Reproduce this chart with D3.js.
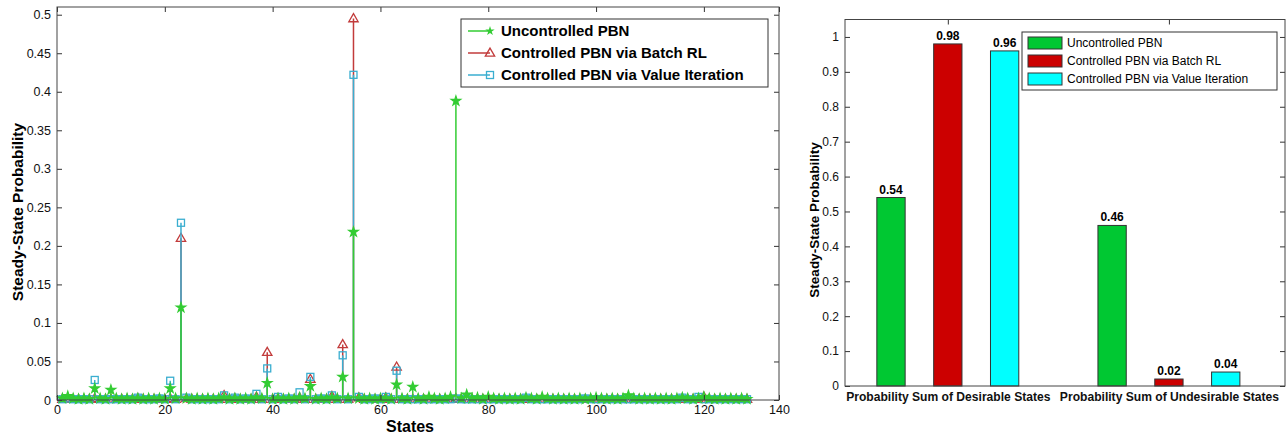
<!DOCTYPE html>
<html>
<head>
<meta charset="utf-8">
<script src="https://cdn.jsdelivr.net/npm/d3@7"></script>
<style>
  body { margin: 0; background: #fff; }
  svg text { font-family: "Liberation Sans", Arial, sans-serif; }
</style>
</head>
<body>
<div id="svgWrapper"></div>
<script>
"use strict"
// data
var seriesNames = ["Uncontrolled PBN", "Controlled PBN via Batch RL", "Controlled PBN via Value Iteration"];

// steady-state probability of states 1..128
var uncontrolled = [
    0.002,0.005,0.002,0.001,0.002,0.001,0.015,0.002,0.001,0.013,0.002,0.001,0.002,0.001,0.002,0.001,
    0.002,0.001,0.002,0.001,0.015,0.002,0.120,0.002,0.001,0.002,0.001,0.002,0.001,0.002,0.003,0.001,
    0.002,0.001,0.002,0.001,0.003,0.002,0.022,0.001,0.002,0.001,0.002,0.001,0.003,0.002,0.018,0.001,
    0.002,0.001,0.003,0.002,0.030,0.002,0.218,0.002,0.001,0.002,0.001,0.002,0.002,0.001,0.020,0.002,
    0.001,0.017,0.002,0.001,0.004,0.002,0.001,0.002,0.004,0.388,0.002,0.007,0.002,0.003,0.001,0.004,
    0.002,0.001,0.002,0.001,0.002,0.001,0.003,0.002,0.001,0.004,0.002,0.001,0.002,0.001,0.002,0.001,
    0.002,0.001,0.002,0.003,0.002,0.001,0.002,0.001,0.002,0.006,0.002,0.001,0.002,0.001,0.002,0.001,
    0.002,0.001,0.002,0.003,0.002,0.001,0.002,0.004,0.002,0.001,0.002,0.001,0.002,0.001,0.002,0.001
];
var batchRL = [
    0.001,0.002,0.001,0.001,0.001,0.001,0.002,0.001,0.001,0.001,0.001,0.001,0.001,0.001,0.002,0.001,
    0.001,0.001,0.001,0.001,0.002,0.001,0.210,0.002,0.001,0.001,0.001,0.001,0.001,0.001,0.006,0.001,
    0.002,0.001,0.001,0.001,0.004,0.001,0.062,0.001,0.002,0.001,0.001,0.001,0.003,0.001,0.027,0.001,
    0.001,0.001,0.005,0.001,0.072,0.001,0.495,0.003,0.001,0.001,0.001,0.001,0.003,0.001,0.043,0.001,
    0.001,0.001,0.001,0.001,0.001,0.001,0.001,0.001,0.001,0.002,0.001,0.001,0.001,0.001,0.001,0.001,
    0.001,0.001,0.001,0.001,0.001,0.001,0.002,0.001,0.001,0.001,0.001,0.001,0.001,0.001,0.001,0.001,
    0.001,0.001,0.001,0.001,0.001,0.001,0.001,0.001,0.001,0.001,0.001,0.001,0.001,0.001,0.001,0.001,
    0.001,0.001,0.001,0.002,0.001,0.001,0.001,0.004,0.001,0.001,0.001,0.001,0.001,0.001,0.001,0.001
];
var valueIteration = [
    0.001,0.002,0.001,0.001,0.001,0.001,0.026,0.001,0.001,0.001,0.001,0.001,0.001,0.001,0.003,0.001,
    0.001,0.001,0.002,0.001,0.025,0.001,0.230,0.003,0.001,0.001,0.001,0.001,0.001,0.001,0.006,0.001,
    0.003,0.001,0.002,0.001,0.008,0.001,0.041,0.001,0.004,0.001,0.002,0.001,0.010,0.001,0.030,0.001,
    0.002,0.001,0.006,0.001,0.058,0.001,0.422,0.004,0.001,0.001,0.002,0.001,0.004,0.001,0.038,0.001,
    0.001,0.001,0.001,0.001,0.001,0.001,0.001,0.001,0.001,0.002,0.001,0.001,0.001,0.001,0.001,0.001,
    0.001,0.001,0.001,0.001,0.001,0.001,0.003,0.001,0.001,0.001,0.001,0.001,0.001,0.001,0.001,0.001,
    0.001,0.002,0.001,0.001,0.001,0.001,0.001,0.001,0.001,0.001,0.001,0.001,0.001,0.001,0.001,0.001,
    0.001,0.001,0.001,0.003,0.001,0.001,0.004,0.001,0.001,0.001,0.001,0.001,0.001,0.001,0.001,0.001
];

var stemXTicks = [0, 20, 40, 60, 80, 100, 120, 140];
var stemYTicks = [0, 0.05, 0.1, 0.15, 0.2, 0.25, 0.3, 0.35, 0.4, 0.45, 0.5];

// bar chart
var barCategories = ["Probability Sum of Desirable States", "Probability Sum of Undesirable States"];
var barUncontrolled = [0.54, 0.46];
var barBatchRL = [0.98, 0.02];
var barValueIteration = [0.96, 0.04];
var barYTicks = [0, 0.1, 0.2, 0.3, 0.4, 0.5, 0.6, 0.7, 0.8, 0.9, 1];

var W = 1288, H = 437;
var svg = d3.select("#svgWrapper").append("svg").attr("width", W).attr("height", H);

// ---------- left: stem plot ----------
var sx = d3.scaleLinear().domain([0, 128, 140]).range([57, 747, 779]);
var sy = d3.scaleLinear().domain([0, 0.51]).range([400, 7]);

var left = svg.append("g");
left.append("rect").attr("x", 57).attr("y", 7).attr("width", 779 - 57).attr("height", 400 - 7)
    .attr("fill", "#fff");

var stemSeries = [
    {name: seriesNames[1], values: batchRL, color: "#c23b3b", marker: "tri"},
    {name: seriesNames[2], values: valueIteration, color: "#3aaed0", marker: "sq"},
    {name: seriesNames[0], values: uncontrolled, color: "#33cc33", marker: "dot"}
];

function drawMarker(g, type, color, x, y, sz) {
    if (type == "tri") {
        g.append("path").attr("d", d3.symbol(d3.symbolTriangle, 38)())
            .attr("transform", "translate(" + x + "," + (y + 0.5) + ")")
            .attr("fill", "none").attr("stroke", color).attr("stroke-width", 1.3);
    } else if (type == "sq") {
        g.append("rect").attr("x", x - 3.5).attr("y", y - 3.5).attr("width", 7).attr("height", 7)
            .attr("fill", "none").attr("stroke", color).attr("stroke-width", 1.3);
    } else {
        g.append("path").attr("d", d3.symbol(d3.symbolStar, sz || 28)())
            .attr("transform", "translate(" + x + "," + y + ")")
            .attr("fill", color).attr("stroke", color).attr("stroke-width", 1.2);
    }
}

stemSeries.forEach(function(s) {
    var g = left.append("g");
    s.values.forEach(function(v, i) {
        var st = i + 1;
        g.append("line").attr("x1", sx(st)).attr("x2", sx(st)).attr("y1", sy(0)).attr("y2", sy(v))
            .attr("stroke", s.color).attr("stroke-width", 1.5);
    });
    s.values.forEach(function(v, i) {
        drawMarker(g, s.marker, s.color, sx(i + 1), sy(v));
    });
});

function styleAxis(g) {
    g.select(".domain").remove();
    g.selectAll(".tick line").attr("stroke", "#333");
    g.selectAll(".tick text").attr("fill", "#111");
}

var fmt = function(d) { return String(+d.toFixed(2)); };

left.append("g").attr("transform", "translate(0,400)")
    .call(d3.axisBottom(sx).tickValues(stemXTicks).tickFormat(fmt).tickSizeInner(-5).tickSizeOuter(0).tickPadding(5))
    .call(styleAxis).selectAll("text").style("font-size", "12.5px");
left.append("g").attr("transform", "translate(0,7)")
    .call(d3.axisTop(sx).tickValues(stemXTicks).tickFormat("").tickSizeInner(-5).tickSizeOuter(0))
    .call(styleAxis);
left.append("g").attr("transform", "translate(57,0)")
    .call(d3.axisLeft(sy).tickValues(stemYTicks).tickFormat(fmt).tickSizeInner(-5).tickSizeOuter(0).tickPadding(6))
    .call(styleAxis).selectAll("text").style("font-size", "12.5px");
left.append("g").attr("transform", "translate(779,0)")
    .call(d3.axisRight(sy).tickValues(stemYTicks).tickFormat("").tickSizeInner(-5).tickSizeOuter(0))
    .call(styleAxis);
left.append("rect").attr("x", 57).attr("y", 7).attr("width", 779 - 57).attr("height", 400 - 7)
    .attr("fill", "none").attr("stroke", "#444").attr("stroke-width", 1);

left.append("text").attr("x", 410).attr("y", 432).attr("text-anchor", "middle")
    .style("font-size", "16px").style("font-weight", "bold").text("States");
left.append("text").attr("transform", "translate(23,212) rotate(-90)").attr("text-anchor", "middle")
    .style("font-size", "15.5px").style("font-weight", "bold").text("Steady-State Probability");

// legend
var legL = left.append("g");
legL.append("rect").attr("x", 461).attr("y", 19).attr("width", 307).attr("height", 68)
    .attr("fill", "#fff").attr("stroke", "#333");
var legOrder = [
    {name: seriesNames[0], color: "#33cc33", marker: "dot"},
    {name: seriesNames[1], color: "#c23b3b", marker: "tri"},
    {name: seriesNames[2], color: "#3aaed0", marker: "sq"}
];
legOrder.forEach(function(s, i) {
    var yy = 31 + i * 22;
    legL.append("line").attr("x1", 468).attr("x2", 490).attr("y1", yy).attr("y2", yy)
        .attr("stroke", s.color).attr("stroke-width", 1.5);
    drawMarker(legL, s.marker, s.color, 490, yy, 10);
    legL.append("text").attr("x", 501).attr("y", yy + 5)
        .style("font-size", "15px").style("font-weight", "bold").text(s.name);
});

// ---------- right: bar chart ----------
var bx = d3.scaleLinear().domain([0.535, 2.525]).range([845, 1285]);
var by = d3.scaleLinear().domain([0, 1.05]).range([386, 19.5]);
var barW = 0.128;
var barSeries = [
    {name: seriesNames[0], values: barUncontrolled, color: "#00c832", off: -0.257},
    {name: seriesNames[1], values: barBatchRL, color: "#cc0000", off: 0},
    {name: seriesNames[2], values: barValueIteration, color: "#00ffff", off: 0.257}
];

var right = svg.append("g");
var catIdx = [1, 2];

right.append("g").attr("transform", "translate(0,386)")
    .call(d3.axisBottom(bx).tickValues(catIdx).tickFormat(function(d) { return barCategories[d - 1]; })
        .tickSizeInner(-5).tickSizeOuter(0).tickPadding(6))
    .call(styleAxis)
    .call(function(g) { g.selectAll(".tick line").remove(); })
    .selectAll("text").style("font-size", "12.1px").style("font-weight", "bold");
right.append("g").attr("transform", "translate(0,19.5)")
    .call(d3.axisTop(bx).tickValues(catIdx).tickFormat("").tickSizeInner(-5).tickSizeOuter(0))
    .call(styleAxis);
right.append("g").attr("transform", "translate(845,0)")
    .call(d3.axisLeft(by).tickValues(barYTicks).tickFormat(fmt).tickSizeInner(-5).tickSizeOuter(0).tickPadding(6))
    .call(styleAxis).selectAll("text").style("font-size", "12px");
right.append("g").attr("transform", "translate(1285,0)")
    .call(d3.axisRight(by).tickValues(barYTicks).tickFormat("").tickSizeInner(-5).tickSizeOuter(0))
    .call(styleAxis);

barSeries.forEach(function(s) {
    var g = right.append("g");
    s.values.forEach(function(v, i) {
        var c = catIdx[i] + s.off;
        g.append("rect").attr("x", bx(c - barW / 2)).attr("y", by(v))
            .attr("width", bx(c + barW / 2) - bx(c - barW / 2)).attr("height", by(0) - by(v))
            .attr("fill", s.color).attr("stroke", "#333").attr("stroke-width", 1);
        g.append("text").attr("x", bx(c)).attr("y", by(v) - 4).attr("text-anchor", "middle")
            .style("font-size", "12px").style("font-weight", "bold").text(fmt(v));
    });
});

right.append("rect").attr("x", 845).attr("y", 19.5).attr("width", 1285 - 845).attr("height", 386 - 19.5)
    .attr("fill", "none").attr("stroke", "#444");

right.append("text").attr("transform", "translate(819,220) rotate(-90)").attr("text-anchor", "middle")
    .style("font-size", "13.5px").style("font-weight", "bold").text("Steady-State Probability");

var legR = right.append("g");
legR.append("rect").attr("x", 1022).attr("y", 32).attr("width", 255).attr("height", 58)
    .attr("fill", "#fff").attr("stroke", "#333");
barSeries.forEach(function(s, i) {
    var yy = 43 + i * 18;
    legR.append("rect").attr("x", 1028).attr("y", yy - 6).attr("width", 34).attr("height", 12)
        .attr("fill", s.color).attr("stroke", "#333");
    legR.append("text").attr("x", 1067).attr("y", yy + 4).style("font-size", "12px").text(s.name);
});
</script>
</body>
</html>
